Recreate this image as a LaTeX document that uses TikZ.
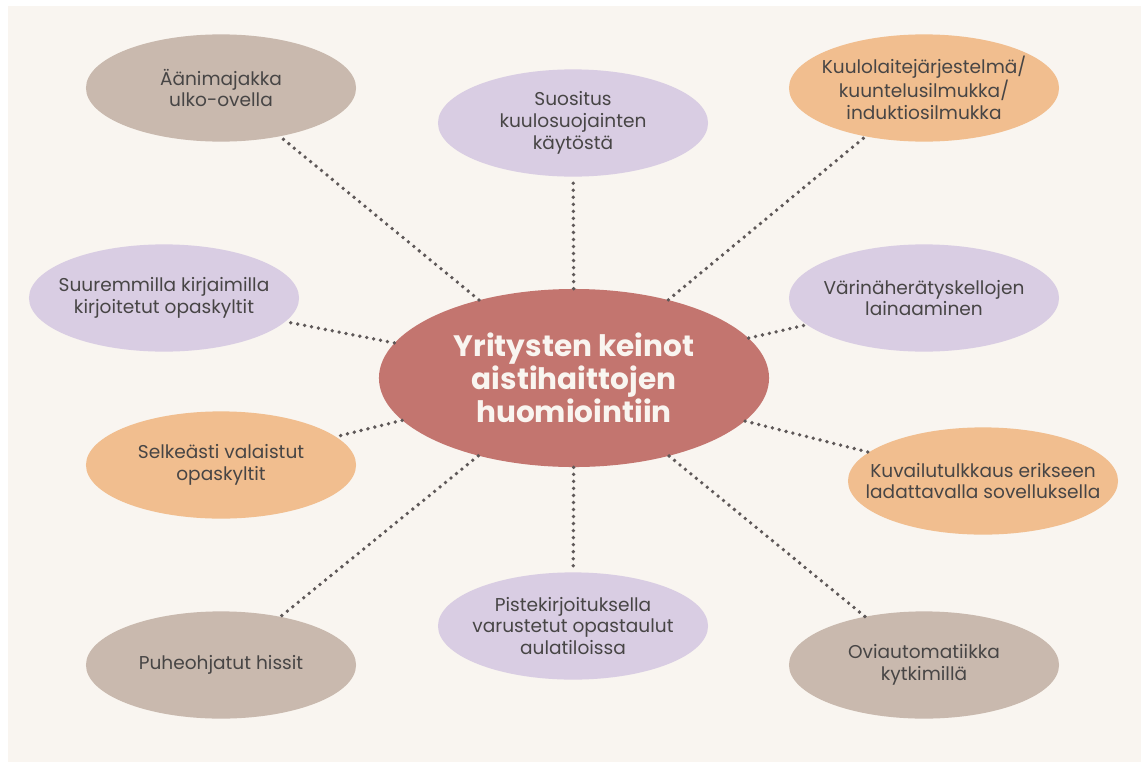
\documentclass[tikz,border=0pt]{standalone}
\usepackage{fontspec}
\setmainfont{Poppins}
\usepackage{tikz}
\usetikzlibrary{shapes}

\definecolor{bgcream}{HTML}{F9F5F0}
\definecolor{taupe}{HTML}{C9B9AE}
\definecolor{lavender}{HTML}{D9CDE3}
\definecolor{peach}{HTML}{F1BE8F}
\definecolor{hubred}{HTML}{C3756F}
\definecolor{txtgray}{HTML}{474545}
\definecolor{dotgray}{HTML}{5E5858}

\begin{document}
\begin{tikzpicture}[x=0.025cm, y=-0.025cm]
                \tikzstyle{bubble} = [ellipse, minimum width=6.75cm, minimum height=2.68cm, inner sep=0pt]
                \tikzstyle{txt} = [align=center, text=txtgray, font=\fontsize{13.2}{15.6}\selectfont]
                \tikzstyle{conn} = [dotgray, line width=2.7pt, line cap=round, dash pattern=on 0pt off 5pt]

                % background
                \fill[white] (0,0) rectangle (1141,762);
                \fill[bgcream] (8,6) rectangle (1141,762);
                \useasboundingbox (0,0) rectangle (1141,762);

                        \begin{scope}
                                \path
                                node[ellipse, fill=hubred, minimum width=9.75cm, minimum height=4.45cm, inner sep=0pt,
                                     align=center, text=bgcream, font=\fontsize{21}{22.3}\selectfont\bfseries]
                                     at (574,378) (hub) {Yritysten keinot\\aistihaittojen\\huomiointiin}
                                node[bubble, fill=taupe, label={[txt]center:Äänimajakka\\ulko-ovella}] at (221,88) (aani) {}
                                node[bubble, fill=lavender, label={[txt]center:Suositus\\kuulosuojainten\\käytöstä}] at (573,123) (suositus) {}
                                node[bubble, fill=peach, label={[txt]center:Kuulolaitejärjestelmä/\\kuuntelusilmukka/\\induktiosilmukka}] at (924,88) (kuulo) {}
                                node[bubble, fill=lavender, label={[txt]center:Suuremmilla kirjaimilla\\kirjoitetut opaskyltit}] at (164,298) (suuri) {}
                                node[bubble, fill=lavender, label={[txt]center:Värinäherätyskellojen\\lainaaminen}] at (924,298) (varina) {}
                                node[bubble, fill=peach, label={[txt]center:Selkeästi valaistut\\opaskyltit}] at (221,465) (valo) {}
                                node[bubble, fill=peach, label={[txt]center:Kuvailutulkkaus erikseen\\ladattavalla sovelluksella}] at (983,481) (kuvailu) {}
                                node[bubble, fill=taupe, label={[txt]center:Puheohjatut hissit}] at (221,665) (hissi) {}
                                node[bubble, fill=lavender, label={[txt]center:Pistekirjoituksella\\varustetut opastaulut\\aulatiloissa}] at (573,626) (piste) {}
                                node[bubble, fill=taupe, label={[txt]center:Oviautomatiikka\\kytkimillä}] at (924,665) (ovi) {};

                                % Dotted spokes
                                \path[conn]
                                (hub) edge (aani)
                                (hub) edge (suositus)
                                (hub) edge (kuulo)
                                (hub) edge (suuri)
                                (hub) edge (varina)
                                (hub) edge (valo)
                                (hub) edge (kuvailu)
                                (hub) edge (hissi)
                                (hub) edge (piste)
                                (hub) edge (ovi)
                                ;
                        \end{scope}
                \end{tikzpicture}
\end{document}
